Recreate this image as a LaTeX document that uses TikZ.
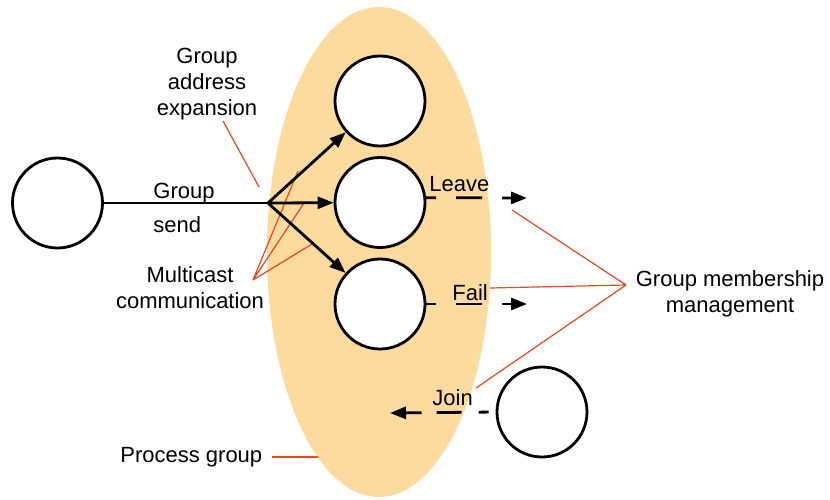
\documentclass[tikz,border=0pt]{standalone}
\usepackage{fontspec}
\setmainfont{Liberation Sans}
\usetikzlibrary{arrows.meta}
\definecolor{groupfill}{RGB}{253,218,158}
\definecolor{annot}{RGB}{232,72,32}
\begin{document}
\begin{tikzpicture}[x=0.5pt,y=-0.5pt,
  proc/.style={circle,draw=black,fill=white,line width=1.4pt,inner sep=0pt,minimum size=45pt},
  lbl/.style={font=\fontsize{11}{13}\selectfont,inner sep=0pt},
  note/.style={draw=annot,line width=0.6pt},
  flow/.style={line width=1.4pt,-{Triangle[length=8pt,width=6pt]}},
  dflow/.style={flow,dash pattern=on 5pt off 10pt on 13pt off 10pt on 20pt},
  jflow/.style={flow,dash pattern=on 0pt off 3.5pt on 5pt off 8.5pt on 12.5pt off 7.5pt on 20pt}]
\useasboundingbox (0,0) rectangle (830,499);
% process group
\fill[groupfill] (379,252) ellipse [x radius=112, y radius=245];
% processes
\node[proc] (src) at (57.5,203) {};
\node[proc] (top) at (380,101) {};
\node[proc] (mid) at (380,202.5) {};
\node[proc] (bot) at (380,304) {};
\node[proc] (new) at (542,412) {};
\coordinate (split) at (268,203);
% labels
\node[lbl,align=center] (gae) at (207,84) {Group\\address\\expansion};
\node[lbl,anchor=base west] (gs1) at (153,198) {Group};
\node[lbl,anchor=base west] (gs2) at (153,232) {send};
\node[lbl,align=center] (mc) at (190,288) {Multicast\\communication};
\node[lbl,anchor=base west] (lv) at (429,191) {Leave};
\node[lbl,anchor=base west] (fl) at (452,300) {Fail};
\node[lbl,anchor=base west] (jn) at (432,405) {Join};
\node[lbl,align=center] (gmm) at (730,294) {Group membership\\management};
\node[lbl,anchor=base west] (pg) at (120,462) {Process group};
% annotation leaders
\coordinate (gaeA) at (223,121);
\coordinate (gaeB) at (259,187);
\coordinate (mcHub) at (253,280);
\coordinate (mc1) at (298,171);
\coordinate (mc2) at (304,203);
\coordinate (mc3) at (312,244);
\coordinate (gmHub) at (626,285);
\coordinate (gm1) at (512,210);
\coordinate (gm2) at (490,288);
\coordinate (gm3) at (476,388);
\coordinate (pgA) at (272,457);
\coordinate (pgB) at (318,457);
\draw[note] (gaeA) -- (gaeB);
\draw[note] (mcHub) -- (mc1) (mcHub) -- (mc2) (mcHub) -- (mc3);
\draw[note] (gmHub) -- (gm1) (gmHub) -- (gm2) (gmHub) -- (gm3);
\draw[note] (pgA) -- (pgB);
% group send
\draw[line width=1.4pt] (src.east) -- (split);
\draw[flow] (split) -- (top);
\draw[flow] (split) -- (mid);
\draw[flow] (split) -- (bot);
% membership changes
\coordinate (leaveEnd) at (527,198);
\coordinate (failEnd) at (527,304);
\coordinate (joinEnd) at (390,413);
\draw[dflow] (mid.6) -- (leaveEnd);
\draw[dflow] (bot.east) -- (failEnd);
\draw[jflow] (new.west) -- (joinEnd);
\end{tikzpicture}
\end{document}
